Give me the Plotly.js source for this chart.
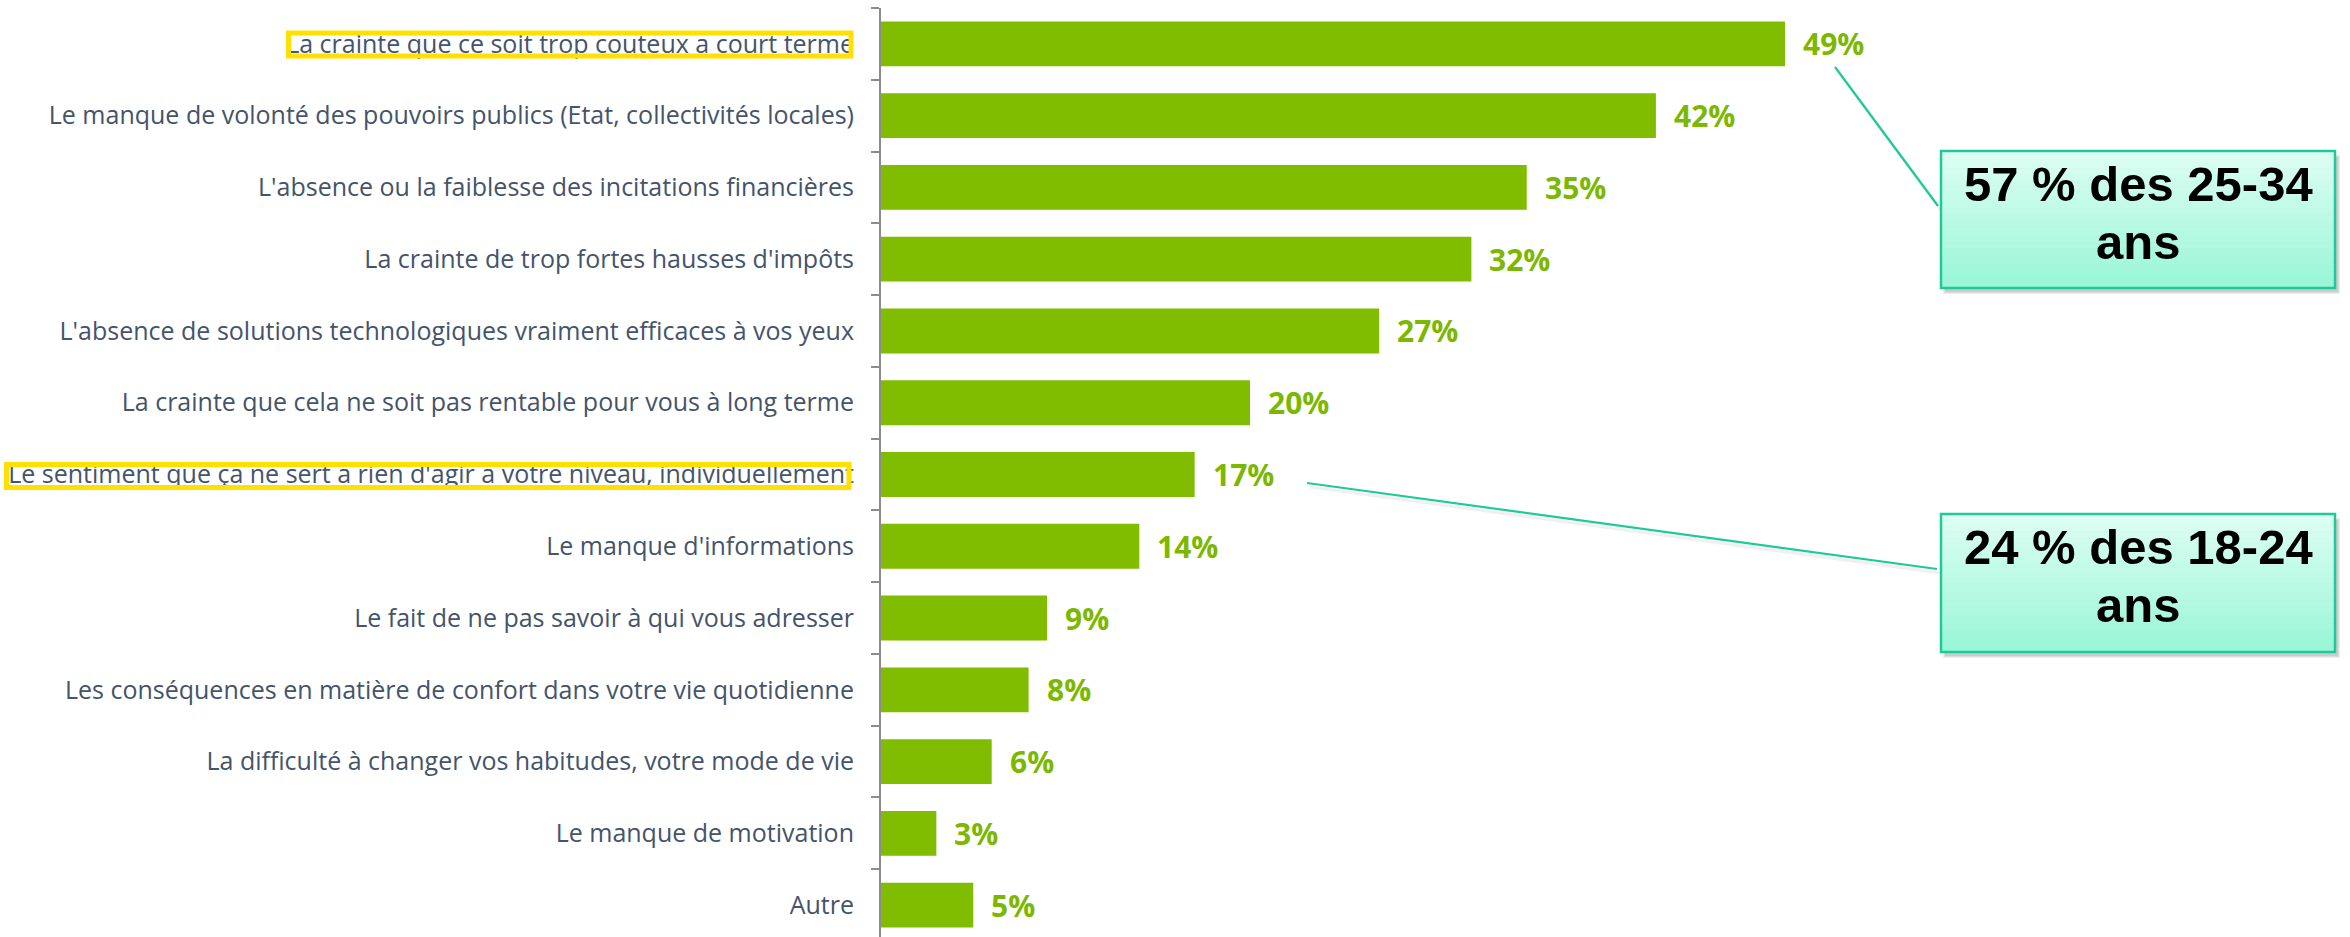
<!DOCTYPE html>
<html>
<head>
<meta charset="utf-8">
<script src="https://cdn.plot.ly/plotly-3.0.1.min.js"></script>
<style>
html,body{margin:0;padding:0;background:#fff;}
#chart{width:2350px;height:937px;}
</style>
</head>
<body>
<div id="chart"></div>
<script>
// ---- data ----
const categories = [
  "La crainte que ce soit trop couteux a court terme",
  "Le manque de volonté des pouvoirs publics (Etat, collectivités locales)",
  "L'absence ou la faiblesse des incitations financières",
  "La crainte de trop fortes hausses d'impôts",
  "L'absence de solutions technologiques vraiment efficaces à vos yeux",
  "La crainte que cela ne soit pas rentable pour vous à long terme",
  "Le sentiment que ça ne sert a rien d'agir a votre niveau, individuellement",
  "Le manque d'informations",
  "Le fait de ne pas savoir à qui vous adresser",
  "Les conséquences en matière de confort dans votre vie quotidienne",
  "La difficulté à changer vos habitudes, votre mode de vie",
  "Le manque de motivation",
  "Autre"
];
const values = [49, 42, 35, 32, 27, 20, 17, 14, 9, 8, 6, 3, 5];
const callouts = [
  {lines: ["57 % des 25-34", "ans"], target: 0},
  {lines: ["24 % des 18-24", "ans"], target: 6}
];

(function () {
// ---- geometry helpers (pixel -> paper coords) ----
const W = 2350, H = 937;
const ML = 881, MT = 8;
const PXPER = 18.45;               // px per percent
const XMAX = (W - ML) / PXPER;
const ROWPX = 71.77;
const YBOT = -0.5 + (H - MT) / ROWPX;
const px = p => (p - ML) / (W - ML);
const py = p => 1 - (p - MT) / (H - MT);

const GREEN = "#80bc00";
const TEAL = "#1ecb98";

const trace = {
  type: "bar",
  orientation: "h",
  x: values,
  y: categories,
  marker: {color: GREEN, line: {width: 0}},
  width: 0.625,
  hoverinfo: "skip"
};

const shapes = [];
const annotations = [];

// value labels
values.forEach((v, i) => {
  annotations.push({
    x: v, y: categories[i], xref: "x", yref: "y",
    text: v + "%", showarrow: false, xanchor: "left", yanchor: "middle",
    xshift: 16,
    font: {family: "Open Sans", size: 30, color: "#7cb800", weight: 700}
  });
});

// yellow highlight boxes around labels
const hlBoxes = [
  {x0: 288.5, x1: 851, yc: 44.5},
  {x0: 6.5, x1: 849, yc: 476}
];
hlBoxes.forEach(b => {
  shapes.push({
    type: "rect", xref: "paper", yref: "paper",
    x0: px(b.x0), x1: px(b.x1),
    y0: py(b.yc - 11.5), y1: py(b.yc + 11.5),
    line: {color: "#ffe000", width: 5}, fillcolor: "rgba(0,0,0,0)", layer: "above"
  });
});

// callout boxes
const boxes = [
  {x0: 1941, x1: 2335, y0: 151, y1: 288, line: [1835, 67, 1938, 206]},
  {x0: 1941, x1: 2335, y0: 514, y1: 652, line: [1307, 483, 1937, 569]}
];
function lerp(a, b, t){ return Math.round(a + (b - a) * t); }
const cTop = [222, 254, 243], cBot = [152, 246, 214];
boxes.forEach((b, k) => {
  shapes.push({type: "line", xref: "paper", yref: "paper",
    x0: px(b.line[0] + 3), y0: py(b.line[1] + 4), x1: px(b.line[2] + 3), y1: py(b.line[3] + 4),
    line: {color: "rgba(0,0,0,0.06)", width: 3}, layer: "above"});
  shapes.push({type: "line", xref: "paper", yref: "paper",
    x0: px(b.line[0]), y0: py(b.line[1]), x1: px(b.line[2]), y1: py(b.line[3]),
    line: {color: TEAL, width: 2.2}, layer: "above"});
  for (let s = 0; s < 3; s++) {
    shapes.push({type: "rect", xref: "paper", yref: "paper",
      x0: px(b.x0 + 4 - s), x1: px(b.x1 + 3 + s), y0: py(b.y0 + 6 - s), y1: py(b.y1 + 4 + s),
      line: {width: 0}, fillcolor: "rgba(0,0,0,0.07)", layer: "above"});
  }
  const N = 24;
  for (let s = 0; s < N; s++) {
    const t = (s + 0.5) / N;
    const c = `rgb(${lerp(cTop[0], cBot[0], t)},${lerp(cTop[1], cBot[1], t)},${lerp(cTop[2], cBot[2], t)})`;
    shapes.push({type: "rect", xref: "paper", yref: "paper",
      x0: px(b.x0), x1: px(b.x1),
      y0: py(b.y0 + (b.y1 - b.y0) * s / N), y1: py(b.y0 + (b.y1 - b.y0) * (s + 1) / N + 0.5),
      line: {width: 0}, fillcolor: c, layer: "above"});
  }
  shapes.push({type: "rect", xref: "paper", yref: "paper",
    x0: px(b.x0), x1: px(b.x1), y0: py(b.y0), y1: py(b.y1),
    line: {color: TEAL, width: 2.5}, fillcolor: "rgba(0,0,0,0)", layer: "above"});
  const cx = (b.x0 + b.x1) / 2;
  const c = callouts[k];
  annotations.push({x: px(cx), y: py(b.y0 + 33), xref: "paper", yref: "paper",
    text: c.lines[0], showarrow: false, xanchor: "center", yanchor: "middle",
    font: {family: "Liberation Sans, Arial", size: 49, color: "#000", weight: 700}});
  annotations.push({x: px(cx), y: py(b.y0 + 91), xref: "paper", yref: "paper",
    text: c.lines[1], showarrow: false, xanchor: "center", yanchor: "middle",
    font: {family: "Liberation Sans, Arial", size: 49, color: "#000", weight: 700}});
});

const layout = {
  width: W, height: H,
  margin: {l: ML, r: 0, t: MT, b: 0, autoexpand: false},
  paper_bgcolor: "#fff", plot_bgcolor: "#fff",
  showlegend: false,
  bargap: 0.375,
  xaxis: {range: [0, XMAX], visible: false, fixedrange: true},
  yaxis: {
    type: "category",
    range: [YBOT, -0.5],
    tickson: "boundaries",
    ticks: "outside", ticklen: 8, tickwidth: 2, tickcolor: "#8c8c8c",
    showline: true, linecolor: "#8c8c8c", linewidth: 2,
    showgrid: false, zeroline: false,
    ticklabelstandoff: 20,
    tickfont: {family: "Open Sans", size: 25, color: "#44546a"},
    automargin: false, fixedrange: true
  },
  shapes: shapes,
  annotations: annotations
};

Plotly.newPlot("chart", [trace], layout, {displayModeBar: false, staticPlot: true});
})();
</script>
</body>
</html>
